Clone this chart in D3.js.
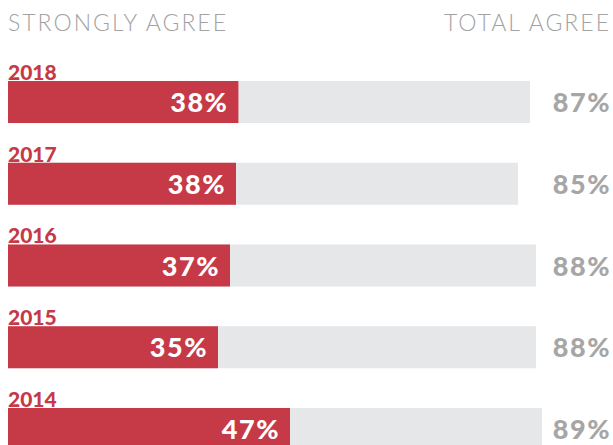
<!DOCTYPE html>
<style>
body { margin: 0; background: #fff; }
text { font-family: Lato, "Open Sans", sans-serif; }
.head { font-size: 23px; fill: #a3a3a3; letter-spacing: 2px; font-weight: 300; }
.year { font-size: 21px; font-weight: 900; fill: #c63a47; }
.strong { font-size: 27px; font-weight: 900; fill: #fff; letter-spacing: 1.5px; }
.total { font-size: 27px; font-weight: 900; fill: #a6a6a6; letter-spacing: 1.5px; }
</style>
<body>
<script src="https://cdn.jsdelivr.net/npm/d3@7"></script>
<div id="chart"></div>
<script>
var years = ["2018", "2017", "2016", "2015", "2014"];
var strongly = [38.4, 38, 37, 35, 47];
var total = [87, 85, 88, 88, 89];

var width = 613, height = 445;

var svg = d3.select("#chart")
    .append("svg")
    .attr("width", width)
    .attr("height", height);

var x = d3.scaleLinear().domain([0, 100]).range([8, 608]);
var y = d3.scaleBand().domain(years).range([81, 450]).paddingInner(0.486).paddingOuter(0);

svg.append("text").attr("class", "head")
    .attr("x", 8).attr("y", 31)
    .text("STRONGLY AGREE");
svg.append("text").attr("class", "head")
    .attr("x", 611).attr("y", 31)
    .attr("text-anchor", "end")
    .text("TOTAL AGREE");

var rows = svg.selectAll("g.row")
    .data(years)
    .enter().append("g")
    .attr("class", "row");

// gray bar = total agree
rows.append("rect")
    .attr("x", x(0))
    .attr("y", d => y(d))
    .attr("width", (d, i) => x(total[i]) - x(0))
    .attr("height", y.bandwidth())
    .attr("fill", "#e6e7e9");

// red bar = strongly agree
rows.append("rect")
    .attr("x", x(0))
    .attr("y", d => y(d))
    .attr("width", (d, i) => x(strongly[i]) - x(0))
    .attr("height", y.bandwidth())
    .attr("fill", "#c63a47");

rows.append("text").attr("class", "year")
    .attr("x", 8)
    .attr("y", d => y(d) - 1)
    .text(d => d);

rows.append("text").attr("class", "strong")
    .attr("x", (d, i) => x(strongly[i]) - 10)
    .attr("y", d => y(d) + y.bandwidth() / 2 + 10)
    .attr("text-anchor", "end")
    .text((d, i) => Math.round(strongly[i]) + "%");

rows.append("text").attr("class", "total")
    .attr("x", 611)
    .attr("y", d => y(d) + y.bandwidth() / 2 + 10)
    .attr("text-anchor", "end")
    .text((d, i) => total[i] + "%");
</script>
</body>
